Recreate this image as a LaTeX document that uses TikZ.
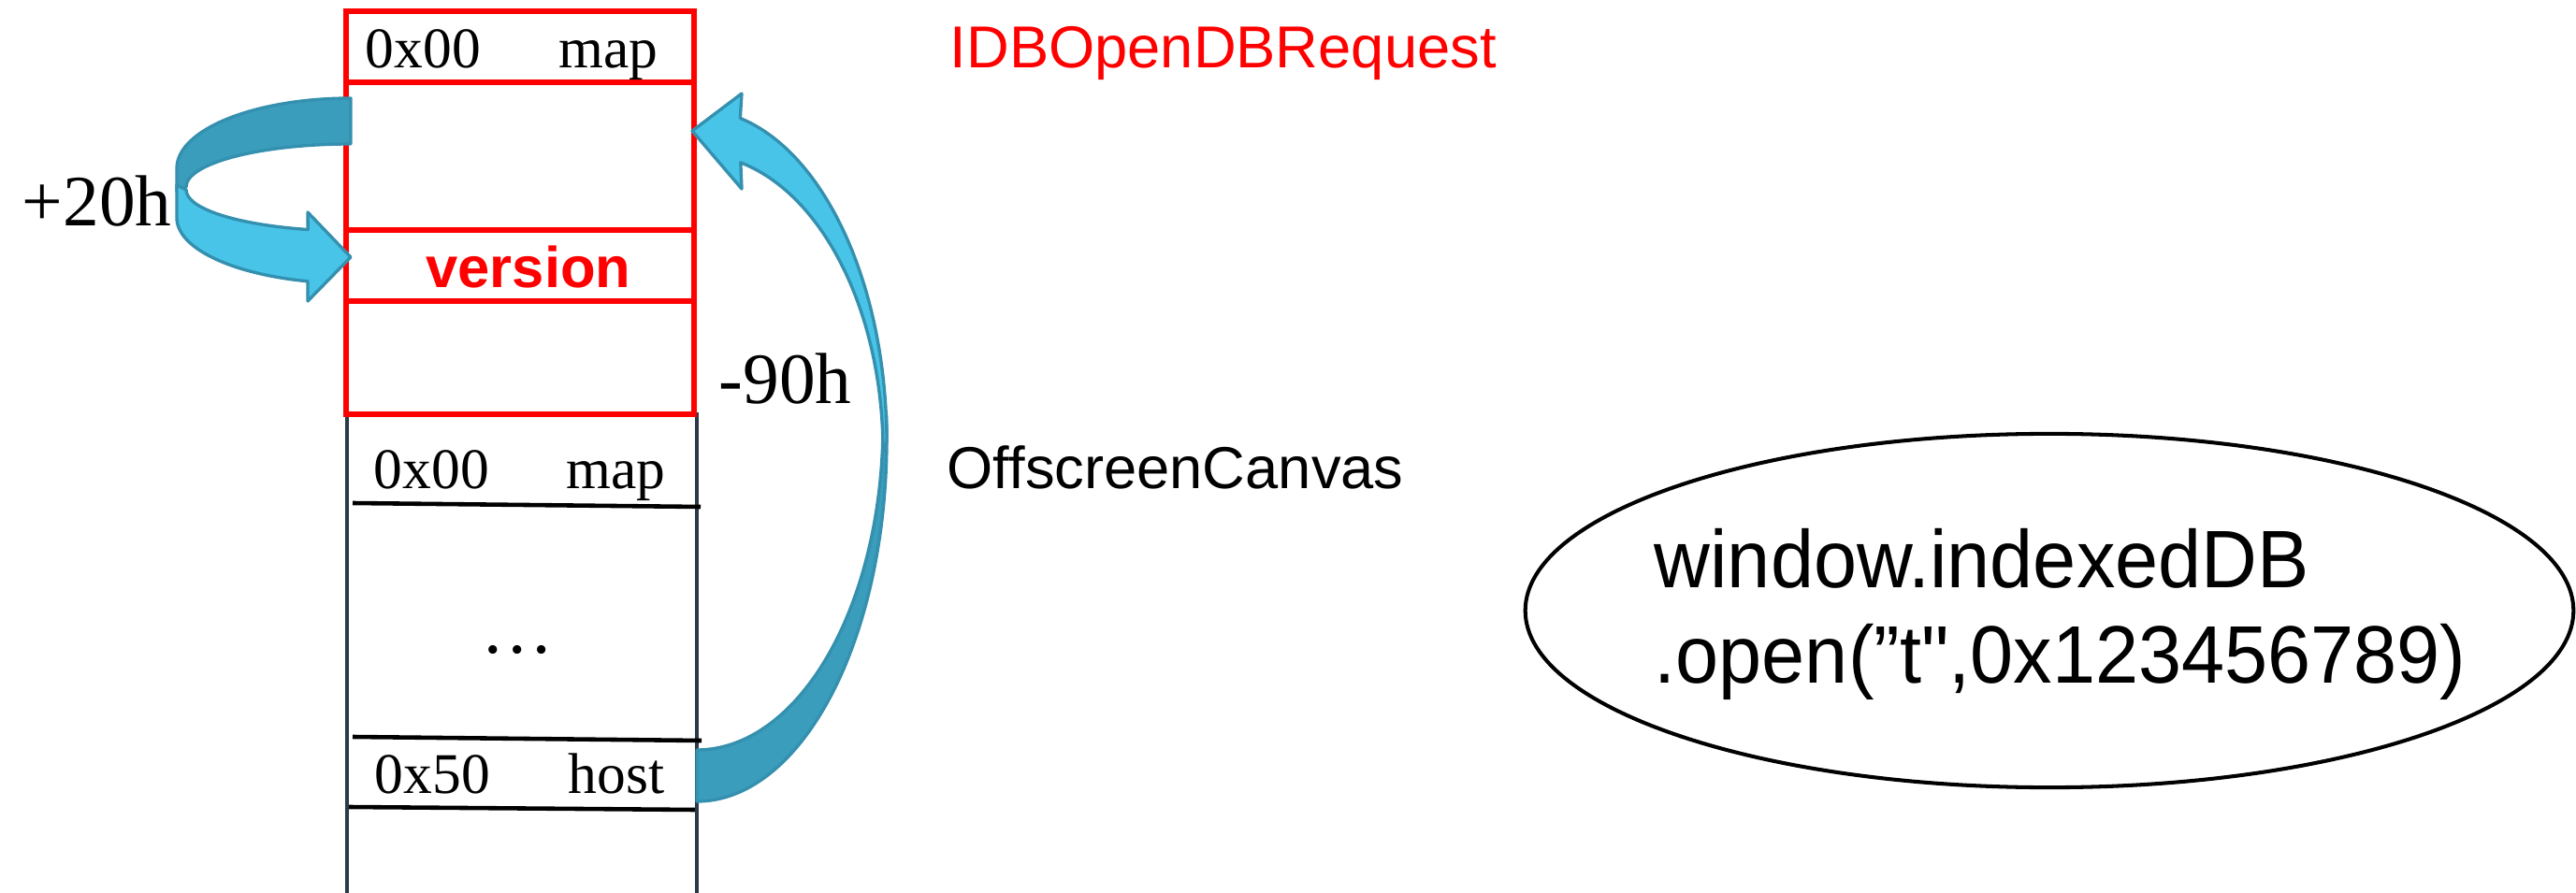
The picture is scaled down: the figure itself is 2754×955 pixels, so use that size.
\documentclass[tikz,border=0pt]{standalone}
\usepackage{fontspec}
\setmainfont{Liberation Serif}
\newfontfamily\sansf{Liberation Sans}[Ligatures=TeXOff]
\newfontfamily\callf{Liberation Sans}[Ligatures=TeXOff, FakeStretch=0.95]
\usetikzlibrary{shapes.geometric}
\definecolor{objred}{HTML}{FF0000}
\definecolor{slotline}{HTML}{2B3A48}
\definecolor{arrowlight}{HTML}{48C4E8}
\definecolor{arrowdark}{HTML}{3A9DBC}
\definecolor{arrowedge}{HTML}{3490AE}
\begin{document}
\begin{tikzpicture}[x=0.01cm, y=-0.01cm,
  redframe/.style={draw=objred, line width=1.5pt},
  slotframe/.style={draw=slotline, line width=1.2pt},
  slotrule/.style={draw=black, line width=1.3pt},
  serifsm/.style={font=\fontsize{17.5}{20}\selectfont, inner sep=0pt, anchor=base west},
  seriflg/.style={font=\fontsize{22}{26}\selectfont, inner sep=0pt, anchor=base west},
  objlabel/.style={font=\sansf\fontsize{18}{21}\selectfont, inner sep=0pt, anchor=base west},
  calltext/.style={font=\callf\fontsize{24.8}{29}\selectfont, inner sep=0pt, anchor=base west},
  bandlight/.style={fill=arrowlight, draw=arrowedge, line width=0.95pt, line join=round},
  banddark/.style={fill=arrowdark, draw=arrowedge, line width=0.95pt, line join=round},
]
\useasboundingbox (0,0) rectangle (2754,955);

% ---- OffscreenCanvas object (open at the bottom) ----
\coordinate (ocTL) at (371,441);
\coordinate (ocTR) at (745,441);
\draw[slotframe] (ocTL) -- (371,955);
\draw[slotframe] (ocTR) -- (745,955);
\draw[slotrule] (377,538) -- (749,542);
\draw[slotrule] (377,788) -- (750,792);
\draw[slotrule] (373,863) -- (743,866);

% ---- IDBOpenDBRequest object ----
\draw[redframe] (370,12) rectangle (742,443);
\draw[redframe] (370,88) -- (742,88);
\draw[redframe] (370,246) -- (742,246);
\draw[redframe] (370,322) -- (742,322);

% ---- +20h : map slot -> version slot ----
\coordinate (mapslot) at (375,130);
\coordinate (verslot) at (375,275);
\path[banddark] (375,105) arc[start angle=-90, end angle=-180, x radius=186, y radius=75]
  -- (189,205) -- (199,200)
  arc[start angle=-180, end angle=-90, x radius=176, y radius=46] -- cycle;
\path[bandlight] (199,203) -- (189,198) -- (189,233)
  arc[start angle=180, end angle=104.3, x radius=186, y radius=70]
  -- (329,322) -- (verslot) -- (329,227) -- (329.2,245.5)
  arc[start angle=105.1, end angle=180, x radius=176, y radius=44] -- cycle;

% ---- -90h : host slot -> start of IDBOpenDBRequest ----
\coordinate (hostslot) at (745,830);
\coordinate (reqslot) at (740,140);
\path[banddark] (745,857) arc[start angle=90, end angle=-4, x radius=203, y radius=387]
  -- (943.5,429.7)
  arc[start angle=-4, end angle=90, x radius=199, y radius=348] -- cycle;
\path[bandlight] (948,473) arc[start angle=0, end angle=-76.8, x radius=203, y radius=356]
  -- (793,100) -- (reqslot) -- (793,202) -- (791.8,173.9)
  arc[start angle=-76.4, end angle=0, x radius=199, y radius=318] -- cycle;

% ---- slot labels ----
\node[serifsm] (r0addr) at (390,73) {0x00};
\node[serifsm] (r0name) at (597,73) {map};
\node[font=\sansf\bfseries\fontsize{17.5}{20}\selectfont, text=objred, inner sep=0pt, anchor=base] (ver) at (565,308) {version};
\node[serifsm] (o0addr) at (399,522) {0x00};
\node[serifsm] (o0name) at (605,522) {map};
\node[seriflg, anchor=base] (gap) at (553,698) {…};
\node[serifsm] (o50addr) at (400,848) {0x50};
\node[serifsm] (o50name) at (607,848) {host};

% ---- offsets ----
\node[seriflg] (plus) at (23,242) {+20h};
\node[seriflg] (minus) at (768,432) {-90h};

% ---- object names ----
\node[objlabel, text=objred] (reqname) at (1015,73) {IDBOpenDBRequest};
\node[objlabel] (canvasname) at (1012,522) {OffscreenCanvas};

% ---- triggering call ----
\node[draw, ellipse, line width=1.15pt, minimum width=11.2cm, minimum height=3.78cm, inner sep=0pt] (call) at (2191,653) {};
\node[calltext] (call1) at (1768,628) {window.indexedDB};
\node[calltext] (call2) at (1768,730) {.open(”t",0x123456789)};
\end{tikzpicture}
\end{document}
